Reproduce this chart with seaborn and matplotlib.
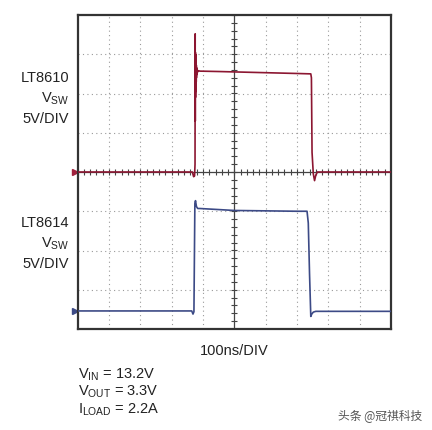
import numpy as np
import matplotlib
matplotlib.use("Agg")
import matplotlib.pyplot as plt
import seaborn as sns

# scope traces, x in divisions (100ns/DIV), y in divisions (5V/DIV)
red_t = [0.0, 3.62, 3.66, 3.70, 3.73, 3.745, 3.75, 3.753, 3.756, 3.759, 3.762, 3.765,
         3.768, 3.771, 3.774, 3.777, 3.780, 3.783, 3.786, 3.789, 3.792, 3.80, 3.81,
         3.83, 3.86, 3.90, 4.5, 5.0, 6.0, 7.0,
         7.44, 7.46, 7.48, 7.52, 7.56, 7.60, 7.65, 10.0]
red_v = [0.0, 0.0, 0.0, -0.12, -0.1, 0.2, 3.52, 1.3, 3.05, 1.9, 3.0, 2.05,
         2.95, 2.15, 2.85, 2.25, 2.8, 2.3, 2.72, 2.4, 2.66, 2.48, 2.62,
         2.55, 2.58, 2.57, 2.56, 2.55, 2.53, 2.51,
         2.5, 2.4, 0.5, -0.05, -0.22, -0.08, 0.0, 0.0]

blue_t = [0.0, 3.64, 3.68, 3.71, 3.74, 3.76, 3.79, 3.83, 3.9, 5.0, 6.0, 7.0,
          7.32, 7.36, 7.40, 7.44, 7.47, 7.52, 7.6, 10.0]
blue_v = [-3.54, -3.54, -3.62, -3.56, -0.8, -0.73, -0.88, -0.93, -0.93, -0.98, -0.99, -1.0,
          -1.0, -1.3, -2.6, -3.68, -3.62, -3.57, -3.55, -3.55]

red_ref = 0.0
blue_ref = -3.54

sns.set_theme(style="white")
plt.rcParams['font.family'] = ['Liberation Sans', 'DejaVu Sans']
plt.rcParams['mathtext.fontset'] = 'custom'
plt.rcParams['mathtext.rm'] = 'Liberation Sans'

W, H = 432, 431
fig = plt.figure(figsize=(W / 100, H / 100), dpi=100)
ax = fig.add_axes([77.7 / W, 1 - 330 / H, 313.3 / W, 314 / H])
ax.set_xlim(0, 10)
ax.set_ylim(-4, 4)

# graticule
for gx in range(1, 10):
    if gx != 5:
        ax.axvline(gx, color='#9a9a9a', lw=0.8, ls=(0, (1, 3)), zorder=1)
for gy in range(-3, 4):
    if gy != 0:
        ax.axhline(gy, color='#9a9a9a', lw=0.8, ls=(0, (1, 3)), zorder=1)
ax.axvline(5, color='#444444', lw=0.9, zorder=1)
ax.axhline(0, color='#444444', lw=0.9, zorder=1)
minor_y = np.arange(-4, 4.01, 0.2)
minor_x = np.arange(0, 10.01, 0.2)
ax.plot(np.full_like(minor_y, 5), minor_y, ls='none', marker='_', ms=4.5,
        mew=0.8, color='#444444', zorder=1)
ax.plot(minor_x, np.zeros_like(minor_x), ls='none', marker='|', ms=4.5,
        mew=0.8, color='#444444', zorder=1)

sns.lineplot(x=red_t, y=red_v, sort=False, estimator=None, ax=ax,
             color='#8c1631', lw=1.2, zorder=3)
sns.lineplot(x=blue_t, y=blue_v, sort=False, estimator=None, ax=ax,
             color='#3c4a86', lw=1.2, zorder=3)

# ground markers
ax.plot([-0.1], [red_ref], marker='>', ms=5, color='#a0203c', clip_on=False)
ax.plot([-0.1], [blue_ref], marker='>', ms=5, color='#3c4a86', clip_on=False)

ax.set_xticks([])
ax.set_yticks([])
ax.set_xlabel('')
ax.set_ylabel('')
for s in ax.spines.values():
    s.set_color('#333333')
    s.set_linewidth(1.6)


def ftext(px, py, s, **kw):
    fig.text(px / W, 1 - py / H, s, **kw)


fs = 10.5
tc = '#222222'
ftext(69, 82, 'LT8610', ha='right', va='baseline', fontsize=fs, color=tc)
ftext(69, 102.5, r'V$_{\mathregular{SW}}$', ha='right', va='baseline', fontsize=fs, color=tc)
ftext(69, 123, '5V/DIV', ha='right', va='baseline', fontsize=fs, color=tc)
ftext(69, 227, 'LT8614', ha='right', va='baseline', fontsize=fs, color=tc)
ftext(69, 247.5, r'V$_{\mathregular{SW}}$', ha='right', va='baseline', fontsize=fs, color=tc)
ftext(69, 268, '5V/DIV', ha='right', va='baseline', fontsize=fs, color=tc)

ftext(234, 355, '100ns/DIV', ha='center', va='baseline', fontsize=fs, color=tc)
ftext(78, 378, r'V$_{\mathregular{IN}}$ = 13.2V', ha='left', va='baseline', fontsize=fs, color=tc)
ftext(78, 395.5, r'V$_{\mathregular{OUT}}$ = 3.3V', ha='left', va='baseline', fontsize=fs, color=tc)
ftext(78, 413, r'I$_{\mathregular{LOAD}}$ = 2.2A', ha='left', va='baseline', fontsize=fs, color=tc)

ftext(422, 417, '头条 @冠祺科技', ha='right', va='center', fontsize=8.5, color='#555555',
      family=['Noto Sans CJK SC', 'DejaVu Sans'])

fig.savefig('out.png', dpi=100, facecolor='white')
